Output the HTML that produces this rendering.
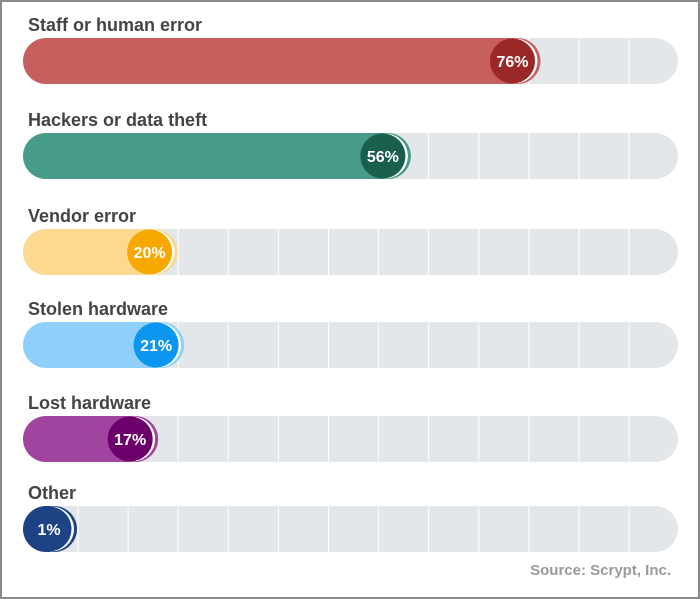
<!DOCTYPE html>
<html><head><meta charset="utf-8"><style>
html,body{margin:0;padding:0;background:#fff}
#frame{position:relative;width:696px;height:595px;border:2px solid #8a8a8a;overflow:hidden}
svg text{font-family:"Liberation Sans",Arial,sans-serif;font-weight:bold}
</style></head><body>
<div id="frame">
<svg id="chart" width="696" height="595"></svg>
</div>
<script>
const categories = ["Staff or human error","Hackers or data theft","Vendor error","Stolen hardware","Lost hardware","Other"];
const values = [76,56,20,21,17,1];
const fillColors = ["#c85f5f","#469c87","#fdd88f","#8fd0fb","#a1449f","#1e4287"];
const dotColors = ["#9b2828","#1a5e4e","#f6a800","#0b97f0","#6b006a","#1d4384"];
const barTops = [36,131,227,320,414,504];

const ns="http://www.w3.org/2000/svg";
const svg=document.getElementById('chart');
const X0=21, X1=676, H=46, R=23;
function xEnd(v){ return 46 + v*6.48; }
function mk(t,a){const e=document.createElementNS(ns,t);for(const k in a)e.setAttribute(k,a[k]);svg.appendChild(e);return e;}
categories.forEach((c,i)=>{
  const y=barTops[i];
  const lab=mk('text',{x:X0+5,y:y-7,'font-size':18,fill:'#444'});
  lab.textContent=c;
  
  
  const tr=mk('rect',{x:X0,y:y,width:X1-X0,height:H,rx:R,fill:'#e3e7ea'});
  
  
  for(let gx=76; gx<X1-30; gx+=50.1){
    const g=mk('line',{x1:gx,x2:gx,y1:y,y2:y+H,stroke:'#fff','stroke-width':1});
    
    
  }
  const end=Math.max(xEnd(values[i]), X0+2*R+8);
  const f=mk('rect',{x:X0,y:y,width:end-X0,height:H,rx:R,fill:fillColors[i]});
  
  
  const cx=end-R-5;
  const w=mk('circle',{cx:cx+2.5,cy:y+H/2,r:R-0.5,fill:'#fff'});
  
  
  const d=mk('circle',{cx:cx,cy:y+H/2,r:R-0.5,fill:dotColors[i]});
  
  
  const t=mk('text',{x:cx,y:y+H/2+6,'font-size':16,fill:'#fff','text-anchor':'middle'});
  t.textContent=values[i]+'%';
  
  
});
const s=mk('text',{x:669,y:573,'font-size':15,fill:'#9a9a9a','text-anchor':'end'});
s.textContent='Source: Scrypt, Inc.';


</script>
</body></html>
